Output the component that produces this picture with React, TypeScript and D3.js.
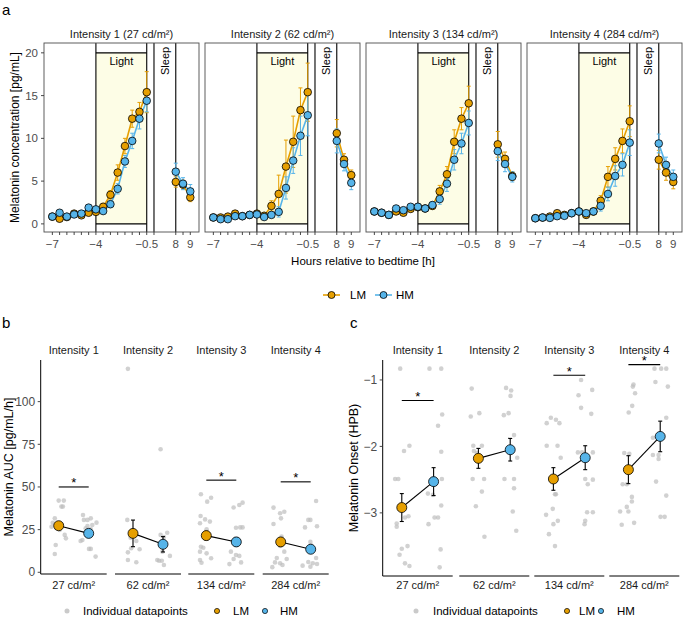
import React from 'react';
import * as d3 from 'd3';

const W = 683;
const H = 617;
const ORANGE = '#E69F00';
const BLUE = '#56B4E9';
const FONT = '"Liberation Sans", Arial, sans-serif';
const TICK_GREY = '#4D4D4D';

// ---- panel a data ----
const hours = [-7, -6.5, -6, -5.5, -5, -4.5, -4, -3.5, -3, -2.5, -2, -1.5, -1, -0.5, 8, 8.5, 9];
const tickHours = [-7, -6.5, -6, -5.5, -5, -4.5, -4, -3.5, -3, -2.5, -2, -1.5, -1, -0.5, 0, 8, 8.5, 9];
const labeledHours = [-7, -4, -0.5, 8, 9];
const yTicksA = [0, 5, 10, 15, 20];
const intensityTitles = [
  'Intensity 1 (27 cd/m²)',
  'Intensity 2 (62 cd/m²)',
  'Intensity 3 (134 cd/m²)',
  'Intensity 4 (284 cd/m²)',
];

const lmMean = [
  [0.85, 0.6, 0.8, 1.2, 1.0, 1.3, 1.4, 2.0, 3.4, 6.0, 9.1, 12.3, 13.1, 15.4, 4.9, 4.6, 3.1],
  [0.75, 0.75, 0.85, 1.2, 0.9, 1.05, 1.2, 0.95, 2.1, 3.5, 6.7, 9.6, 13.3, 15.4, 10.6, 7.5, 5.7],
  [1.45, 1.3, 1.05, 1.45, 1.3, 1.75, 1.95, 1.8, 2.1, 3.8, 5.8, 9.6, 12.3, 14.1, 9.3, 7.6, 5.6],
  [0.66, 0.74, 0.86, 1.25, 1.05, 1.25, 1.45, 1.05, 1.45, 2.7, 5.5, 7.6, 9.7, 12.0, 7.5, 6.0, 4.9],
];
const lmSe = [
  [0.2, 0.2, 0.2, 0.2, 0.2, 0.2, 0.3, 0.4, 0.5, 0.9, 0.9, 1.0, 1.1, 2.4, 0.6, 0.5, 0.5],
  [0.2, 0.2, 0.2, 0.3, 0.2, 0.2, 0.2, 0.3, 0.6, 2.2, 3.1, 3.0, 2.6, 3.4, 1.6, 0.7, 0.6],
  [0.2, 0.2, 0.2, 0.2, 0.2, 0.2, 0.2, 0.3, 0.4, 0.7, 0.9, 1.4, 1.3, 2.0, 1.5, 0.8, 0.5],
  [0.2, 0.2, 0.2, 0.3, 0.2, 0.2, 0.2, 0.3, 0.4, 0.6, 1.2, 1.3, 1.4, 1.8, 1.1, 0.9, 0.8],
];
const hmMean = [
  [0.85, 1.3, 0.85, 1.1, 1.2, 1.9, 1.7, 1.5, 2.3, 4.1, 7.3, 9.7, 12.3, 14.4, 6.1, 4.7, 3.8],
  [0.75, 0.55, 0.55, 0.9, 0.9, 1.05, 1.1, 0.8, 1.05, 1.4, 4.2, 7.4, 10.3, 12.7, 9.7, 7.0, 4.8],
  [1.45, 1.3, 1.05, 1.8, 1.6, 2.0, 2.0, 1.8, 2.2, 2.9, 4.7, 7.5, 9.4, 11.8, 8.5, 7.0, 5.5],
  [0.66, 0.74, 0.7, 0.9, 0.94, 1.25, 1.45, 1.25, 1.45, 2.1, 3.5, 5.6, 6.9, 9.5, 9.4, 6.9, 5.5],
];
const hmSe = [
  [0.2, 0.3, 0.2, 0.2, 0.2, 0.3, 0.3, 0.3, 0.4, 0.6, 0.7, 0.9, 1.2, 1.3, 1.0, 0.7, 0.8],
  [0.2, 0.2, 0.2, 0.2, 0.2, 0.2, 0.2, 0.2, 0.3, 0.6, 1.3, 1.5, 2.3, 2.4, 1.4, 0.8, 0.8],
  [0.2, 0.2, 0.2, 0.3, 0.3, 0.3, 0.3, 0.3, 0.4, 0.6, 0.9, 1.2, 1.2, 1.4, 1.1, 0.9, 0.6],
  [0.2, 0.2, 0.2, 0.2, 0.2, 0.2, 0.2, 0.2, 0.3, 0.6, 0.8, 1.2, 1.3, 1.5, 1.1, 0.9, 0.8],
];

// ---- panel b / c data ----
const doseLabels = ['27 cd/m²', '62 cd/m²', '134 cd/m²', '284 cd/m²'];
const facetTitles = ['Intensity 1', 'Intensity 2', 'Intensity 3', 'Intensity 4'];

const aucLmMean = [27.3, 22.8, 21.5, 17.8];
const aucLmSe = [2.0, 7.8, 2.5, 2.5];
const aucHmMean = [22.8, 16.4, 17.8, 13.5];
const aucHmSe = [2.0, 4.5, 2.5, 2.0];
const aucSig = [50, null, 54, 53];
const aucTicks = [0, 25, 50, 75, 100];

// [jitter offset (category units), value]
const aucLmPoints = [
  [[0, 42], [0.17, 42], [0.09, 38.5], [0.14, 38.5], [-0.13, 31.6], [-0.24, 26.7], [-0.08, 25.8], [0.03, 24.8], [0.2, 21.9], [0.24, 19.9], [-0.1, 16], [-0.13, 10.7], [-0.2, 29], [0.1, 28]],
  [[-0.17, 119.2], [-0.19, 30.7], [0, 23.8], [-0.08, 20.3], [0.11, 18.3], [-0.06, 14.1], [0.22, 13.5], [-0.17, 11.7], [-0.17, 7.2], [0.11, 5.9]],
  [[-0.18, 45.7], [0.16, 43.7], [0.03, 41.4], [-0.19, 33], [-0.04, 31], [0.12, 29.7], [-0.21, 28.7], [0.01, 25.2], [-0.18, 15], [-0.1, 14.4], [-0.21, 12.1], [0.01, 11.1], [0.16, 8.2], [-0.21, 7.2], [-0.16, 5.6]],
  [[-0.24, 37.9], [-0.02, 34.6], [0.12, 35.5], [0.01, 31.6], [-0.24, 28.3], [0.03, 20.9], [-0.02, 15.4], [0.12, 12.1], [-0.13, 8.4], [0.2, 7.8], [-0.02, 5.3], [-0.19, 5.8], [-0.28, 3], [0.06, 4.3]],
];
const aucHmPoints = [
  [[-0.19, 33.6], [-0.04, 30.7], [-0.16, 30.7], [0.07, 31.6], [0.26, 29.1], [0.12, 27.7], [-0.04, 27.1], [0.07, 25.4], [-0.21, 18.9], [-0.27, 18.3], [0.01, 13.7], [0.07, 13.7], [0.23, 9.2], [-0.1, 25.8]],
  [[-0.08, 72.1], [0.14, 23.2], [-0.08, 21.9], [0.03, 20.7], [-0.02, 12.1], [0.23, 9.6], [-0.19, 7.2], [-0.13, 6.8], [-0.04, 6.8], [0.03, 4.3]],
  [[0.21, 40.8], [0.1, 39.4], [-0.09, 38], [-0.01, 26.1], [0.13, 26.3], [0.21, 26.3], [-0.18, 12.1], [-0.01, 10.1], [0.1, 9.6], [-0.09, 7.8], [0.16, 5.8], [-0.23, 4.8], [0.04, 17.8]],
  [[0.18, 41.8], [-0.08, 30.7], [-0.01, 30.7], [0.21, 27], [-0.19, 26.3], [-0.01, 17.8], [0.01, 15.8], [0.18, 8.4], [-0.08, 6], [0.07, 5.3], [0.21, 4.9], [-0.27, 3.9], [-0.01, 3.3]],
];

const onsetLmMean = [-2.92, -2.18, -2.49, -2.35];
const onsetLmSe = [0.21, 0.15, 0.17, 0.21];
const onsetHmMean = [-2.53, -2.05, -2.17, -1.85];
const onsetHmSe = [0.21, 0.17, 0.18, 0.23];
const onsetSig = [-1.31, null, -0.93, -0.77];
const onsetTicks = [-1, -2, -3];

const onsetLmPoints = [
  [[-0.05, -0.83], [0.24, -1.99], [0.07, -2.07], [-0.21, -2.49], [-0.11, -2.49], [0.1, -3.07], [0.21, -3.05], [-0.16, -3.16], [-0.16, -3.21], [0.18, -3.5], [0, -3.54], [-0.07, -3.63], [0.1, -3.76], [0.24, -3.8]],
  [[-0.21, -1.13], [-0.24, -1.55], [0.03, -1.5], [-0.16, -1.99], [0.11, -1.99], [-0.14, -2.07], [-0.18, -2.49], [0.18, -2.49], [0.11, -2.68], [-0.08, -2.9], [0.19, -3.36], [-0.05, -2.1]],
  [[-0.08, -1.57], [0.08, -1.6], [-0.21, -1.65], [0.19, -1.65], [-0.21, -1.99], [0.13, -1.99], [0.23, -2.17], [0.05, -2.72], [0.08, -2.72], [-0.02, -2.94], [-0.23, -3.03], [0.14, -3.12], [0, -3.17], [-0.14, -3.32], [0.05, -3.5]],
  [[0.16, -1.07], [0.14, -1.1], [0.21, -1.2], [0.12, -1.39], [0.01, -1.49], [-0.13, -2.1], [0.03, -2.11], [-0.18, -2.57], [-0.05, -2.57], [0.11, -2.76], [0.11, -2.83], [-0.05, -2.91], [-0.26, -2.98], [0, -2.98], [-0.21, -3.18], [0.18, -3.15]],
];
const onsetHmPoints = [
  [[-0.13, -0.83], [0.24, -0.83], [0.27, -1.52], [0.14, -1.69], [0.24, -2.08], [0.26, -2.49], [-0.18, -2.71], [-0.02, -2.73], [0.24, -2.89], [0.03, -3.07], [0.14, -3.07], [-0.16, -3.17], [0.22, -3.55], [0.19, -3.82]],
  [[-0.13, -1.12], [0.03, -1.16], [0.01, -1.24], [-0.2, -1.53], [-0.05, -1.5], [0.12, -1.83], [0.22, -2.17], [-0.18, -2.49], [0.12, -2.49], [0.12, -2.63], [0.08, -2.98], [0.19, -3.27]],
  [[-0.13, -1.0], [0.22, -1.15], [-0.21, -1.23], [-0.13, -1.42], [0.19, -1.51], [-0.23, -2.09], [-0.1, -2.09], [0.24, -2.09], [0, -2.49], [0.24, -2.5], [0.08, -2.57], [0.06, -2.99], [0.24, -2.99], [0, -3.12], [-0.02, -3.17]],
  [[-0.18, -0.83], [0.03, -0.83], [0.19, -0.83], [-0.15, -1.03], [0.24, -1.1], [0.19, -1.57], [-0.23, -1.87], [-0.05, -2.13], [-0.23, -2.13], [-0.05, -2.19], [-0.13, -2.53], [0.19, -2.74], [0.14, -3.06], [0.01, -3.06]],
];

// ---- layout ----
const panelA = { top: 43, bottom: 232, lefts: [44, 205, 366, 527], width: 155 };
const hourPos = (h: number) => (h <= 0 ? (h + 7) * 2 : 17 + (h - 8) * 2);
const yA = d3.scaleLinear().domain([-0.95, 21.15]).range([panelA.bottom, panelA.top]);

const fmt = (v: number) => String(v).replace('-', '\u2212');

function CurvePanel({ i }: { i: number }) {
  const left = panelA.lefts[i];
  const xIdx = d3.scaleLinear().domain([-1.15, 20.2]).range([left, left + panelA.width]);
  const px = (h: number) => xIdx(hourPos(h));
  const groups = [
    { mean: lmMean[i], se: lmSe[i], color: ORANGE },
    { mean: hmMean[i], se: hmSe[i], color: BLUE },
  ];
  const seg = (mean: number[], from: number, to: number) =>
    d3
      .line<number>()
      .x((_, k) => px(hours[from + k]))
      .y((d) => yA(d))(mean.slice(from, to));
  const x4 = px(-4);
  const x05 = px(-0.5);
  const x0 = px(0);
  const x8 = px(8);
  return (
    <g>
      <text x={left + panelA.width / 2} y={38} textAnchor="middle" fontSize={11} fill="#1A1A1A">
        {intensityTitles[i]}
      </text>
      <rect x={x4} y={yA(20)} width={x05 - x4} height={yA(0) - yA(20)} fill="#FDFDE6" />
      {[yA(20), yA(0)].map((y, k) => (
        <line key={k} x1={x4} x2={x05} y1={y} y2={y} stroke="#000" strokeWidth={1.1} />
      ))}
      {[x4, x05, x0, x8].map((x, k) => (
        <line key={k} x1={x} x2={x} y1={panelA.top} y2={panelA.bottom} stroke="#000" strokeWidth={1.1} />
      ))}
      <text x={(x4 + x05) / 2} y={yA(19)} dy="0.35em" textAnchor="middle" fontSize={11} fill="#000">
        Light
      </text>
      <text
        transform={`translate(${(x0 + x8) / 2},${yA(19.05)}) rotate(-90)`}
        dy="0.35em"
        textAnchor="middle"
        fontSize={11}
        fill="#000"
      >
        Sleep
      </text>
      {groups.map((g, gi) => (
        <g key={'e' + gi} stroke={g.color} strokeWidth={1}>
          {g.mean.map((m, k) => {
            const x = px(hours[k]);
            const y1 = yA(m - g.se[k]);
            const y2 = yA(m + g.se[k]);
            return (
              <g key={k}>
                <line x1={x} x2={x} y1={y1} y2={y2} />
                <line x1={x - 2} x2={x + 2} y1={y1} y2={y1} />
                <line x1={x - 2} x2={x + 2} y1={y2} y2={y2} />
              </g>
            );
          })}
        </g>
      ))}
      {groups.map((g, gi) => (
        <g key={'l' + gi} fill="none" stroke={g.color} strokeWidth={1.6}>
          <path d={seg(g.mean, 0, 14) || ''} />
          <path d={seg(g.mean, 14, 17) || ''} />
        </g>
      ))}
      {groups.map((g, gi) => (
        <g key={'p' + gi}>
          {g.mean.map((m, k) => (
            <circle key={k} cx={px(hours[k])} cy={yA(m)} r={3.8} fill={g.color} stroke="#000" strokeWidth={0.8} />
          ))}
        </g>
      ))}
      <rect
        x={left}
        y={panelA.top}
        width={panelA.width}
        height={panelA.bottom - panelA.top}
        fill="none"
        stroke="#4D4D4D"
        strokeWidth={0.9}
      />
      {tickHours.map((h) => (
        <line key={h} x1={px(h)} x2={px(h)} y1={panelA.bottom} y2={panelA.bottom + 3} stroke="#333" strokeWidth={0.9} />
      ))}
      {labeledHours.map((h) => (
        <text key={h} x={px(h)} y={248} textAnchor="middle" fontSize={11.5} fill={TICK_GREY}>
          {fmt(h)}
        </text>
      ))}
      {i === 0 &&
        yTicksA.map((v) => (
          <g key={v}>
            <line x1={left - 3} x2={left} y1={yA(v)} y2={yA(v)} stroke="#333" strokeWidth={0.9} />
            <text x={left - 6} y={yA(v)} dy="0.35em" textAnchor="end" fontSize={11.5} fill={TICK_GREY}>
              {v}
            </text>
          </g>
        ))}
    </g>
  );
}

type DotProps = {
  lefts: number[];
  width: number;
  top: number;
  bottom: number;
  domain: [number, number];
  ticks: number[];
  lm: number[];
  lmSeArr: number[];
  hm: number[];
  hmSeArr: number[];
  lmPts: number[][][];
  hmPts: number[][][];
  sig: (number | null)[];
  yTitle: string;
  yTitleX: number;
  legendX: number[];
};

function DotPanel(p: DotProps) {
  const y = d3.scaleLinear().domain(p.domain).range([p.bottom, p.top]);
  const axisX = p.lefts[0];
  return (
    <g>
      <text
        transform={`translate(${p.yTitleX},${(p.top + p.bottom) / 2}) rotate(-90)`}
        textAnchor="middle"
        fontSize={12.5}
        fill="#000"
      >
        {p.yTitle}
      </text>
      <line x1={axisX} x2={axisX} y1={p.top} y2={p.bottom} stroke="#000" strokeWidth={1} />
      {p.ticks.map((v) => (
        <g key={v}>
          <line x1={axisX - 3} x2={axisX} y1={y(v)} y2={y(v)} stroke="#333" strokeWidth={0.9} />
          <text x={axisX - 5.5} y={y(v)} dy="0.35em" textAnchor="end" fontSize={12} fill={TICK_GREY}>
            {fmt(v)}
          </text>
        </g>
      ))}
      {p.lefts.map((left, f) => {
        const x = d3.scaleLinear().domain([0.4, 2.6]).range([left, left + p.width]);
        const groups = [
          { c: 1, mean: p.lm[f], se: p.lmSeArr[f], pts: p.lmPts[f], color: ORANGE },
          { c: 2, mean: p.hm[f], se: p.hmSeArr[f], pts: p.hmPts[f], color: BLUE },
        ];
        const s = p.sig[f];
        return (
          <g key={f}>
            <text x={left + p.width / 2} y={354} textAnchor="middle" fontSize={11} fill="#1A1A1A">
              {facetTitles[f]}
            </text>
            <text x={left + p.width / 2} y={589} textAnchor="middle" fontSize={11} fill="#1A1A1A">
              {doseLabels[f]}
            </text>
            <line x1={left} x2={left + p.width} y1={p.bottom} y2={p.bottom} stroke="#000" strokeWidth={1} />
            {groups.map((g) =>
              g.pts.map((d, k) => (
                <circle key={g.c + '-' + k} cx={x(g.c + d[0])} cy={y(d[1])} r={2.3} fill="#BDBDBD" opacity={0.7} />
              ))
            )}
            {groups.map((g) => (
              <g key={'e' + g.c} stroke="#000" strokeWidth={1.1}>
                <line x1={x(g.c)} x2={x(g.c)} y1={y(g.mean - g.se)} y2={y(g.mean + g.se)} />
                <line x1={x(g.c) - 2} x2={x(g.c) + 2} y1={y(g.mean - g.se)} y2={y(g.mean - g.se)} />
                <line x1={x(g.c) - 2} x2={x(g.c) + 2} y1={y(g.mean + g.se)} y2={y(g.mean + g.se)} />
              </g>
            ))}
            <line x1={x(1)} x2={x(2)} y1={y(p.lm[f])} y2={y(p.hm[f])} stroke="#000" strokeWidth={1.1} />
            {groups.map((g) => (
              <circle key={'m' + g.c} cx={x(g.c)} cy={y(g.mean)} r={5} fill={g.color} stroke="#000" strokeWidth={0.8} />
            ))}
            {s !== null && (
              <g>
                <line x1={x(1)} x2={x(2)} y1={y(s)} y2={y(s)} stroke="#000" strokeWidth={1.1} />
                <text x={(x(1) + x(2)) / 2} y={y(s) + 0.5} textAnchor="middle" fontSize={13} fill="#000">
                  *
                </text>
              </g>
            )}
          </g>
        );
      })}
      <g fontSize={11.5} fill="#000">
        <circle cx={p.legendX[0]} cy={611} r={2.5} fill="#BDBDBD" opacity={0.8} />
        <text x={p.legendX[1]} y={611} dy="0.35em">Individual datapoints</text>
        <circle cx={p.legendX[2]} cy={611} r={2.6} fill={ORANGE} stroke="#000" strokeWidth={0.7} />
        <text x={p.legendX[3]} y={611} dy="0.35em">LM</text>
        <circle cx={p.legendX[4]} cy={611} r={2.6} fill={BLUE} stroke="#000" strokeWidth={0.7} />
        <text x={p.legendX[5]} y={611} dy="0.35em">HM</text>
      </g>
    </g>
  );
}

const App = () => {
  return (
    <svg
      width={W}
      height={H}
      style={{ position: 'absolute', left: 0, top: 0, background: '#fff' }}
      fontFamily={FONT}
    >
      <text x={2} y={15} fontSize={15} fill="#000">a</text>
      <text x={2} y={328} fontSize={15} fill="#000">b</text>
      <text x={350} y={328} fontSize={15} fill="#000">c</text>
      <text
        transform={`translate(18.5,${(panelA.top + panelA.bottom) / 2}) rotate(-90)`}
        textAnchor="middle"
        fontSize={12}
        fill="#000"
      >
        Melatonin concentration [pg/mL]
      </text>
      {[0, 1, 2, 3].map((i) => (
        <CurvePanel key={i} i={i} />
      ))}
      <text x={363} y={265} textAnchor="middle" fontSize={11.5} fill="#000">
        Hours relative to bedtime [h]
      </text>
      <g>
        <line x1={323} x2={340} y1={295} y2={295} stroke={ORANGE} strokeWidth={1.6} />
        <circle cx={331.5} cy={295} r={3.5} fill={ORANGE} stroke="#000" strokeWidth={0.8} />
        <text x={350} y={295} dy="0.35em" fontSize={11.5}>LM</text>
        <line x1={375} x2={392} y1={295} y2={295} stroke={BLUE} strokeWidth={1.6} />
        <circle cx={383.5} cy={295} r={3.5} fill={BLUE} stroke="#000" strokeWidth={0.8} />
        <text x={396} y={295} dy="0.35em" fontSize={11.5}>HM</text>
      </g>
      <DotPanel
        lefts={[40.7, 115, 188.3, 262.7]}
        width={66}
        top={360}
        bottom={574}
        domain={[-1.0, 124.4]}
        ticks={aucTicks}
        lm={aucLmMean}
        lmSeArr={aucLmSe}
        hm={aucHmMean}
        hmSeArr={aucHmSe}
        lmPts={aucLmPoints}
        hmPts={aucHmPoints}
        sig={aucSig}
        yTitle="Melatonin AUC [pg/mL/h]"
        yTitleX={13}
        legendX={[67, 83, 217, 233, 265, 280]}
      />
      <DotPanel
        lefts={[382.7, 459.3, 534.3, 609.3]}
        width={70}
        top={360}
        bottom={576}
        domain={[-3.95, -0.7]}
        ticks={onsetTicks}
        lm={onsetLmMean}
        lmSeArr={onsetLmSe}
        hm={onsetHmMean}
        hmSeArr={onsetHmSe}
        lmPts={onsetLmPoints}
        hmPts={onsetHmPoints}
        sig={onsetSig}
        yTitle="Melatonin Onset (HPB)"
        yTitleX={357.5}
        legendX={[416, 433, 567, 579, 601, 617]}
      />
    </svg>
  );
};

export default App;
